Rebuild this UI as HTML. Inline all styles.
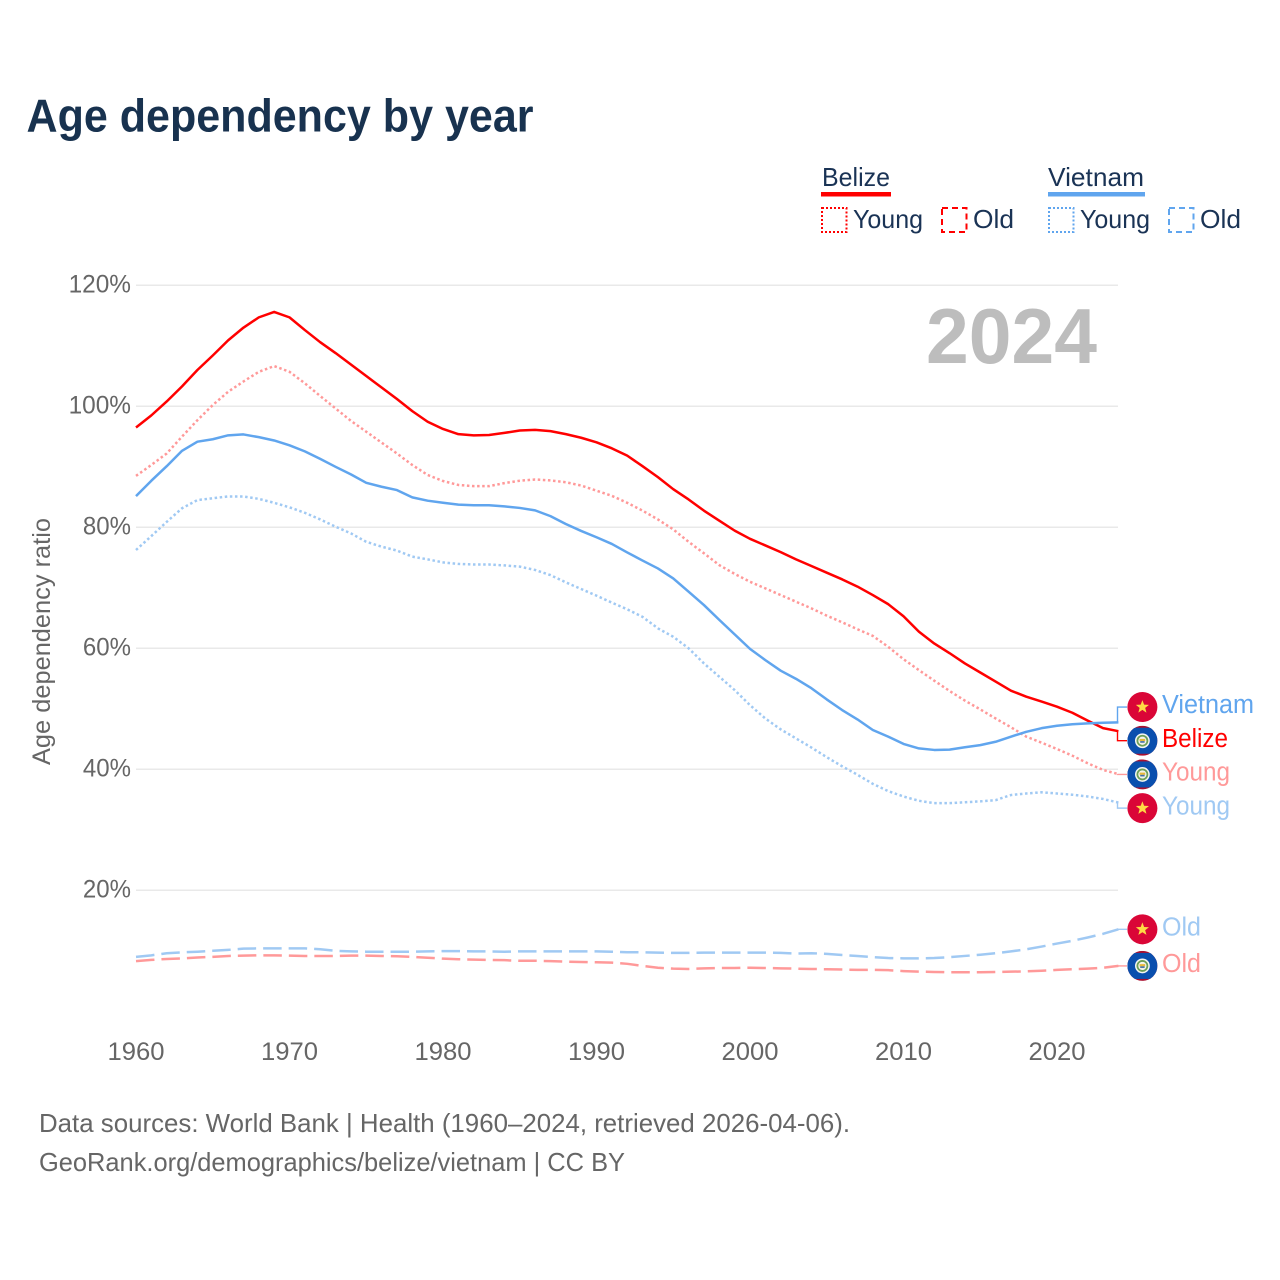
<!DOCTYPE html>
<html lang="en">
<head>
<meta charset="utf-8">
<title>Age dependency by year</title>
<style>
html,body{margin:0;padding:0;background:#fff;}
svg{display:block;}
text{font-family:"Liberation Sans",sans-serif;}
</style>
</head>
<body>
<svg id="chart" xmlns="http://www.w3.org/2000/svg" width="1280" height="1280" viewBox="0 0 1280 1280">
  <rect x="0" y="0" width="1280" height="1280" fill="#ffffff"/>
  <text x="26.5" y="131.5" font-size="46" font-weight="700" fill="#18324f" textLength="507" lengthAdjust="spacingAndGlyphs">Age dependency by year</text>

  <g>
    <g>
      <text x="822" y="186" font-size="26" fill="#1a3355" textLength="68" lengthAdjust="spacingAndGlyphs">Belize</text>
      <rect x="821" y="192" width="70" height="4.5" fill="#ff0000"/>
      <rect x="822" y="208" width="24.5" height="24" fill="none" stroke="#ff0000" stroke-width="2" stroke-dasharray="2 2"/>
      <text x="853" y="228" font-size="26" fill="#1a3355" textLength="70" lengthAdjust="spacingAndGlyphs">Young</text>
      <rect x="942" y="208" width="24.5" height="24" fill="none" stroke="#ff0000" stroke-width="2" stroke-dasharray="6 4"/>
      <text x="973" y="228" font-size="26" fill="#1a3355" textLength="41" lengthAdjust="spacingAndGlyphs">Old</text>
    </g>
    <g>
      <text x="1048" y="186" font-size="26" fill="#1a3355" textLength="96" lengthAdjust="spacingAndGlyphs">Vietnam</text>
      <rect x="1048" y="192" width="97" height="4.5" fill="#60a5ee"/>
      <rect x="1049" y="208" width="24.5" height="24" fill="none" stroke="#60a5ee" stroke-width="2" stroke-dasharray="2 2"/>
      <text x="1080" y="228" font-size="26" fill="#1a3355" textLength="70" lengthAdjust="spacingAndGlyphs">Young</text>
      <rect x="1169" y="208" width="24.5" height="24" fill="none" stroke="#60a5ee" stroke-width="2" stroke-dasharray="6 4"/>
      <text x="1200" y="228" font-size="26" fill="#1a3355" textLength="41" lengthAdjust="spacingAndGlyphs">Old</text>
    </g>
  </g>

  <g id="grid"></g>
  <g id="yticks"></g>
  <g id="xticks"></g>
  <text transform="translate(50,641.5) rotate(-90)" text-anchor="middle" font-size="25" fill="#666666" textLength="247" lengthAdjust="spacingAndGlyphs">Age dependency ratio</text>
  <text x="926" y="363" font-size="78" font-weight="700" fill="#bdbdbd" textLength="171" lengthAdjust="spacingAndGlyphs">2024</text>

  <g id="series"></g>
  <g id="labels"></g>

  <text x="39" y="1132" font-size="26" fill="#666666" textLength="811" lengthAdjust="spacingAndGlyphs">Data sources: World Bank | Health (1960–2024, retrieved 2026-04-06).</text>
  <text x="39" y="1171" font-size="26" fill="#666666" textLength="586" lengthAdjust="spacingAndGlyphs">GeoRank.org/demographics/belize/vietnam | CC BY</text>
</svg>
<script>
var years = [1960,1961,1962,1963,1964,1965,1966,1967,1968,1969,1970,1971,1972,1973,1974,1975,1976,1977,1978,1979,1980,1981,1982,1983,1984,1985,1986,1987,1988,1989,1990,1991,1992,1993,1994,1995,1996,1997,1998,1999,2000,2001,2002,2003,2004,2005,2006,2007,2008,2009,2010,2011,2012,2013,2014,2015,2016,2017,2018,2019,2020,2021,2022,2023,2024];
var xTickValues = [1960,1970,1980,1990,2000,2010,2020];
var yTickValues = [20,40,60,80,100,120];
var belizeTotal = [96.5,98.5,100.8,103.3,106,108.4,110.9,113,114.7,115.6,114.7,112.6,110.6,108.8,106.9,105,103.1,101.2,99.2,97.45,96.25,95.4,95.2,95.25,95.6,96,96.1,95.9,95.4,94.8,94.05,93.05,91.85,90.1,88.3,86.3,84.6,82.75,81.1,79.45,78.1,77,75.9,74.7,73.6,72.5,71.4,70.2,68.8,67.3,65.3,62.75,60.8,59.2,57.5,56,54.5,53,52,51.2,50.35,49.35,48.05,46.8,46.3];
var belizeYoung = [88.5,90.3,92.2,95,97.7,100.2,102.4,104.1,105.7,106.65,105.7,103.8,101.7,99.65,97.6,95.8,94,92.2,90.3,88.65,87.65,87,86.8,86.8,87.3,87.7,87.9,87.75,87.45,86.9,86.05,85.2,84.05,82.75,81.3,79.65,77.6,75.7,73.75,72.3,71,69.9,68.8,67.7,66.6,65.4,64.3,63.15,62.05,60.25,58.2,56.4,54.65,52.95,51.35,49.9,48.4,46.95,45.4,44.4,43.35,42.25,41,39.9,39.2];
var belizeOld = [8.3,8.5,8.65,8.75,8.9,9,9.15,9.2,9.25,9.25,9.2,9.15,9.15,9.15,9.2,9.2,9.15,9.1,9,8.85,8.7,8.6,8.55,8.5,8.45,8.35,8.35,8.3,8.2,8.15,8.1,8.05,7.85,7.5,7.2,7.05,7,7.1,7.15,7.15,7.2,7.15,7.1,7.05,7,6.95,6.9,6.85,6.85,6.8,6.65,6.55,6.5,6.45,6.45,6.45,6.5,6.55,6.6,6.7,6.85,6.95,7.05,7.2,7.5];
var vietnamTotal = [85.15,87.7,90.1,92.65,94.15,94.55,95.2,95.35,94.9,94.35,93.55,92.55,91.3,90,88.75,87.35,86.7,86.15,84.95,84.4,84.05,83.75,83.65,83.65,83.45,83.2,82.8,81.85,80.55,79.4,78.35,77.25,75.85,74.5,73.2,71.55,69.35,67.15,64.7,62.3,59.9,58.05,56.3,54.95,53.4,51.55,49.8,48.25,46.5,45.4,44.2,43.45,43.2,43.25,43.65,44,44.55,45.4,46.2,46.8,47.2,47.45,47.6,47.7,47.75];
var vietnamYoung = [76.25,78.55,80.9,83.15,84.5,84.8,85.1,85.1,84.7,84.05,83.3,82.4,81.3,80.1,79,77.6,76.8,76.15,75.15,74.7,74.2,73.95,73.85,73.85,73.7,73.5,72.95,72.1,70.9,69.8,68.7,67.55,66.45,65.2,63.3,61.9,60,57.5,55.3,53.1,50.6,48.4,46.6,45.1,43.6,42,40.5,39.1,37.6,36.4,35.5,34.8,34.4,34.4,34.55,34.7,34.9,35.75,36,36.2,36,35.8,35.5,35.1,34.5];
var vietnamOld = [9,9.25,9.6,9.75,9.85,10,10.15,10.35,10.4,10.4,10.4,10.4,10.25,10,9.9,9.85,9.85,9.85,9.85,9.9,9.95,9.95,9.9,9.9,9.85,9.9,9.9,9.9,9.9,9.9,9.9,9.85,9.75,9.75,9.7,9.65,9.65,9.7,9.7,9.7,9.7,9.7,9.65,9.55,9.6,9.5,9.3,9.15,8.95,8.8,8.75,8.75,8.8,8.95,9.15,9.35,9.6,9.9,10.25,10.7,11.2,11.65,12.2,12.8,13.55];

var SVGNS = 'http://www.w3.org/2000/svg';
function xScale(year){ return 136 + (year - 1960) * 15.35; }
function yScale(value){ return 1011.3 - value * 6.05; }
function make(tag, attrs, parent){
  var el = document.createElementNS(SVGNS, tag);
  for (var k in attrs) el.setAttribute(k, attrs[k]);
  if (parent) parent.appendChild(el);
  return el;
}

var gridGroup = document.getElementById('grid');
var yTickGroup = document.getElementById('yticks');
var xTickGroup = document.getElementById('xticks');
yTickValues.forEach(function(v){
  var y = yScale(v);
  var line = make('line', {x1:136, x2:1118, y1:y, y2:y, stroke:'#e9e9e9', 'stroke-width':1.5}, gridGroup);
  
  
  var label = v + '%';
  var t = make('text', {x:131, y:y + 7.2, 'text-anchor':'end', 'font-size':25, fill:'#666666', textLength:(label.length - 1) * 14.3 + 19.5, lengthAdjust:'spacingAndGlyphs'}, yTickGroup);
  t.textContent = label;
  
  
});
xTickValues.forEach(function(yr){
  var t = make('text', {x:xScale(yr), y:1060.2, 'text-anchor':'middle', 'font-size':25, fill:'#666666', textLength:57, lengthAdjust:'spacingAndGlyphs'}, xTickGroup);
  t.textContent = String(yr);
  
  
});

var RED = '#ff0000', PINK = '#ff9999', BLUE = '#60a5ee', SKY = '#a0c9f3';
var DOT = '2.5 2.6', DASH = '18.5 7';
var seriesList = [
  {id:'belize-old',    values:belizeOld,    color:PINK, dash:DASH, label:'Old',     flag:'belize',  w:39},
  {id:'vietnam-old',   values:vietnamOld,   color:SKY,  dash:DASH, label:'Old',     flag:'vietnam', w:39},
  {id:'belize-young',  values:belizeYoung,  color:PINK, dash:DOT,  label:'Young',   flag:'belize',  w:68},
  {id:'vietnam-young', values:vietnamYoung, color:SKY,  dash:DOT,  label:'Young',   flag:'vietnam', w:68},
  {id:'belize-total',  values:belizeTotal,  color:RED,  dash:'',   label:'Belize',  flag:'belize',  w:66},
  {id:'vietnam-total', values:vietnamTotal, color:BLUE, dash:'',   label:'Vietnam', flag:'vietnam', w:92}
];

var seriesGroup = document.getElementById('series');
seriesList.forEach(function(s){
  var d = s.values.map(function(v, i){
    return (i ? 'L' : 'M') + xScale(years[i]).toFixed(2) + ' ' + yScale(v).toFixed(2);
  }).join('');
  var attrs = {d:d, fill:'none', stroke:s.color, 'stroke-width':2.5, 'stroke-linejoin':'round'};
  if (s.dash) attrs['stroke-dasharray'] = s.dash;
  var p = make('path', attrs, seriesGroup);
  
  
});

/* dodge end labels so they keep a minimum spacing */
var SPACING = 33.7;
function dodge(items){
  var sorted = items.slice().sort(function(a, b){ return a.end - b.end; });
  var clusters = sorted.map(function(it){ return {items:[it], center:it.end}; });
  var merged = true;
  while (merged){
    merged = false;
    for (var i = 0; i < clusters.length - 1; i++){
      var a = clusters[i], b = clusters[i + 1];
      var aBottom = a.center + (a.items.length - 1) * SPACING / 2;
      var bTop = b.center - (b.items.length - 1) * SPACING / 2;
      if (bTop - aBottom < SPACING){
        var all = a.items.concat(b.items);
        var sum = all.reduce(function(acc, it){ return acc + it.end; }, 0);
        clusters.splice(i, 2, {items:all, center:sum / all.length});
        merged = true;
        break;
      }
    }
  }
  clusters.forEach(function(c){
    c.items.forEach(function(it, j){
      it.pos = c.center + (j - (c.items.length - 1) / 2) * SPACING;
    });
  });
}

function drawFlag(kind, cy, parent, idx){
  var g = make('g', {transform:'translate(1142.4 ' + cy.toFixed(2) + ')'}, parent);
  
  
  var clipId = 'flagclip' + idx;
  var cp = make('clipPath', {id:clipId}, g);
  make('circle', {r:15}, cp);
  if (kind === 'vietnam'){
    make('circle', {r:15, fill:'#da0637'}, g);
    var pts = [];
    for (var i = 0; i < 10; i++){
      var r = i % 2 ? 2.9 : 6.9;
      var ang = -Math.PI / 2 + i * Math.PI / 5;
      pts.push((r * Math.cos(ang)).toFixed(2) + ',' + (r * Math.sin(ang)).toFixed(2));
    }
    make('polygon', {points:pts.join(' '), fill:'#ffda44'}, g);
  } else {
    var inner = make('g', {'clip-path':'url(#' + clipId + ')'}, g);
    make('rect', {x:-15, y:-15, width:30, height:30, fill:'#a8102f'}, inner);
    make('rect', {x:-15, y:-13, width:30, height:26, fill:'#0a4fae'}, inner);
    make('circle', {r:7.4, fill:'#f4f6f2'}, inner);
    make('circle', {r:5, fill:'none', stroke:'#6d9f57', 'stroke-width':1.8}, inner);
    make('circle', {r:3, fill:'#f3f1df'}, inner);
    make('rect', {x:-2.8, y:-1.8, width:5.6, height:2.2, fill:'#e8b93a'}, inner);
    make('rect', {x:-2.2, y:0.4, width:4.4, height:1.6, fill:'#3f6fa8'}, inner);
  }
}

var labelGroup = document.getElementById('labels');
var endItems = seriesList.map(function(s){
  return {s:s, end:yScale(s.values[s.values.length - 1]), pos:0};
});
dodge(endItems);
endItems.forEach(function(it, idx){
  var s = it.s;
  var c = make('path', {d:'M1117.5 ' + it.end.toFixed(2) + 'V' + it.pos.toFixed(2) + 'H1127', fill:'none', stroke:s.color, 'stroke-width':1.4}, labelGroup);
  
  
  drawFlag(s.flag, it.pos, labelGroup, idx);
  var t = make('text', {x:1162, y:it.pos + 6.2, 'font-size':25.5, fill:s.color, textLength:s.w, lengthAdjust:'spacingAndGlyphs'}, labelGroup);
  t.textContent = s.label;
  
  
});
</script>
</body>
</html>
